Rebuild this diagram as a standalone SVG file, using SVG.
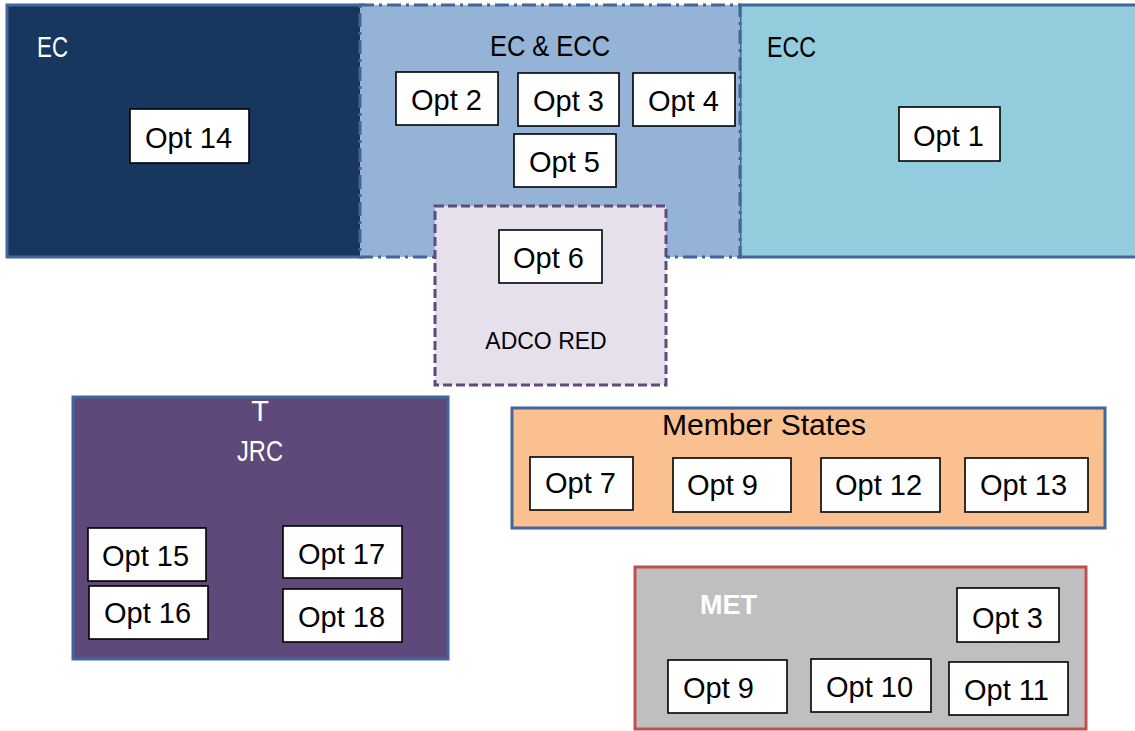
<svg xmlns="http://www.w3.org/2000/svg" width="1135" height="731" viewBox="0 0 1135 731">
<style>
.opt{fill:#fff;stroke:#000;stroke-width:1.6}
.ot{font-family:"Liberation Sans",Arial,sans-serif;font-size:29px;fill:#000}
.hd{font-family:"Liberation Sans",Arial,sans-serif;font-size:29px}
.w{fill:#fff}
.k{fill:#000}
</style>
<rect width="1135" height="731" fill="#fff"/>
<g id="ec">
<rect x="7" y="5" width="356" height="252" fill="#17375e" stroke="#41679a" stroke-width="3"/>
<text class="hd w" x="37" y="57" textLength="31" lengthAdjust="spacingAndGlyphs">EC</text>
</g>
<g id="ecc">
<rect x="740" y="5" width="400" height="252" fill="#93cddd" stroke="#41679a" stroke-width="3"/>
<text class="hd k" x="767" y="57" textLength="49" lengthAdjust="spacingAndGlyphs">ECC</text>
</g>
<g id="ec-ecc">
<rect x="360" y="5" width="380" height="252" fill="#95b3d7" stroke="#41679a" stroke-width="3" stroke-dasharray="14 5 3 5"/>
<text class="hd k" x="550" y="56" text-anchor="middle" textLength="120" lengthAdjust="spacingAndGlyphs">EC &amp; ECC</text>
</g>
<g id="adco-red">
<rect x="435" y="206" width="231" height="179" fill="#e5e0ec" stroke="#604a7b" stroke-width="3" stroke-dasharray="9 4"/>
<text x="546" y="349" text-anchor="middle" font-family="Liberation Sans, Arial, sans-serif" font-size="23" fill="#000">ADCO RED</text>
</g>
<g id="jrc">
<rect x="73" y="397" width="375" height="262" fill="#5f497a" stroke="#41679a" stroke-width="3"/>
<text class="hd w" x="260" y="421" text-anchor="middle">T</text>
<text class="hd w" x="260" y="461" text-anchor="middle" textLength="46" lengthAdjust="spacingAndGlyphs">JRC</text>
</g>
<g id="member-states">
<rect x="512" y="408" width="593" height="120" fill="#fac090" stroke="#41679a" stroke-width="3"/>
<text class="hd k" x="662" y="435" textLength="204" lengthAdjust="spacingAndGlyphs">Member States</text>
</g>
<g id="met">
<rect x="635" y="567" width="451" height="162" fill="#bfbfbf" stroke="#c0504d" stroke-width="3"/>
<text x="700" y="614" font-family="Liberation Sans, Arial, sans-serif" font-size="27" font-weight="bold" fill="#fff" textLength="57" lengthAdjust="spacingAndGlyphs">MET</text>
</g>
<g id="opt14"><rect class="opt" x="130" y="109" width="119" height="54"/><text class="ot" x="145" y="148">Opt 14</text></g>
<g id="opt2"><rect class="opt" x="396" y="72" width="102" height="53"/><text class="ot" x="411" y="110">Opt 2</text></g>
<g id="opt3"><rect class="opt" x="518" y="73" width="101" height="53"/><text class="ot" x="533" y="111">Opt 3</text></g>
<g id="opt4"><rect class="opt" x="633" y="73" width="102" height="53"/><text class="ot" x="648" y="111">Opt 4</text></g>
<g id="opt5"><rect class="opt" x="514" y="134" width="102" height="53"/><text class="ot" x="529" y="172">Opt 5</text></g>
<g id="opt1"><rect class="opt" x="899" y="107" width="101" height="54"/><text class="ot" x="913" y="146">Opt 1</text></g>
<g id="opt6"><rect class="opt" x="499" y="230" width="103" height="53"/><text class="ot" x="513" y="268">Opt 6</text></g>
<g id="opt15"><rect class="opt" x="88" y="528" width="118" height="53"/><text class="ot" x="102" y="566">Opt 15</text></g>
<g id="opt16"><rect class="opt" x="89" y="586" width="119" height="53"/><text class="ot" x="104" y="623">Opt 16</text></g>
<g id="opt17"><rect class="opt" x="283" y="526" width="119" height="52"/><text class="ot" x="298" y="564">Opt 17</text></g>
<g id="opt18"><rect class="opt" x="283" y="589" width="119" height="53"/><text class="ot" x="298" y="627">Opt 18</text></g>
<g id="opt7"><rect class="opt" x="530" y="457" width="103" height="53"/><text class="ot" x="545" y="493">Opt 7</text></g>
<g id="opt9-ms"><rect class="opt" x="673" y="458" width="118" height="54"/><text class="ot" x="687" y="495">Opt 9</text></g>
<g id="opt12"><rect class="opt" x="821" y="458" width="119" height="54"/><text class="ot" x="835" y="495">Opt 12</text></g>
<g id="opt13"><rect class="opt" x="965" y="458" width="123" height="54"/><text class="ot" x="980" y="495">Opt 13</text></g>
<g id="opt3-met"><rect class="opt" x="957" y="588" width="102" height="54"/><text class="ot" x="972" y="628">Opt 3</text></g>
<g id="opt9-met"><rect class="opt" x="668" y="660" width="119" height="53"/><text class="ot" x="683" y="698">Opt 9</text></g>
<g id="opt10"><rect class="opt" x="811" y="659" width="120" height="53"/><text class="ot" x="826" y="697">Opt 10</text></g>
<g id="opt11"><rect class="opt" x="949" y="662" width="119" height="53"/><text class="ot" x="964" y="700">Opt 11</text></g>
<g id="connectors"></g>
</svg>
